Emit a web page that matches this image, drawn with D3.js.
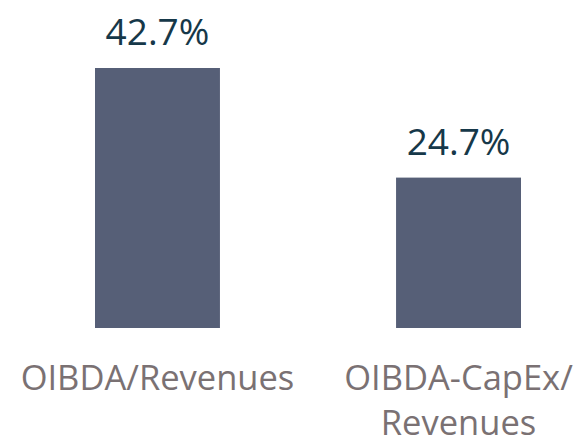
<!DOCTYPE html>
<meta charset="utf-8">
<style>
body { margin: 0; background: #fff; }
text { font-family: "Open Sans", "Liberation Sans", sans-serif; }
</style>
<svg width="574" height="445"></svg>
<script src="https://cdn.jsdelivr.net/npm/d3@7"></script>
<script>

var categories = [["OIBDA/Revenues"], ["OIBDA-CapEx/", "Revenues"]];
var values = [42.7, 24.7];
var valueLabels = ["42.7%", "24.7%"];

var svg = d3.select("svg");

var x = d3.scaleBand()
    .domain(d3.range(values.length))
    .range([95, 521])
    .paddingInner(0.585)
    .paddingOuter(0);

var y = d3.scaleLinear()
    .domain([0, 42.7])
    .range([328, 68]);

svg.selectAll("rect")
  .data(values)
  .enter().append("rect")
    .attr("x", function(d, i) { return x(i); })
    .attr("y", function(d) { return y(d); })
    .attr("width", x.bandwidth())
    .attr("height", function(d) { return y(0) - y(d); })
    .attr("fill", "#565f77");

svg.selectAll(".val")
  .data(values)
  .enter().append("text")
    .attr("class", "val")
    .attr("x", function(d, i) { return x(i) + x.bandwidth() / 2; })
    .attr("y", function(d) { return y(d) - 23; })
    .attr("text-anchor", "middle")
    .attr("font-size", 37)
    .attr("fill", "#163849")
    .text(function(d, i) { return valueLabels[i]; });

var cat = svg.selectAll(".cat")
  .data(categories)
  .enter().append("text")
    .attr("class", "cat")
    .attr("text-anchor", "middle")
    .attr("font-size", 34.5)
    .attr("fill", "#7a7173");

cat.selectAll("tspan")
  .data(function(d, i) { return d.map(function(s) { return {s: s, i: i}; }); })
  .enter().append("tspan")
    .attr("x", function(d) { return x(d.i) + x.bandwidth() / 2; })
    .attr("y", function(d, j) { return 390 + j * 45; })
    .text(function(d) { return d.s; });

</script>
